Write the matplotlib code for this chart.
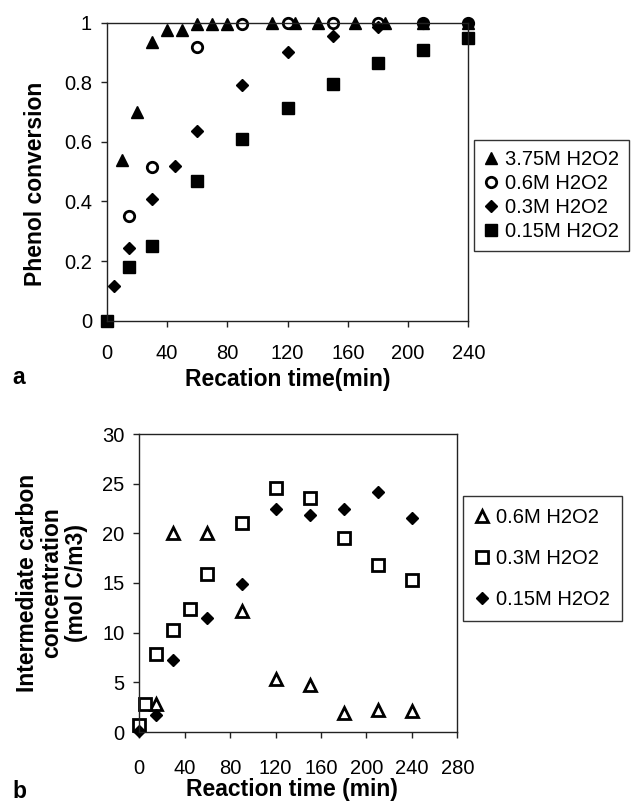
import matplotlib
matplotlib.use('Agg')
import matplotlib.pyplot as plt

plt.rcParams['font.family'] = ['Liberation Sans', 'DejaVu Sans']

# panel a: phenol conversion vs time
a_375_x = [10, 20, 30, 40, 50, 60, 70, 80, 110, 125, 140, 165, 185, 210, 240]
a_375_y = [0.54, 0.70, 0.935, 0.975, 0.975, 0.995, 0.995, 0.995, 1.0, 1.0, 1.0, 1.0, 1.0, 1.0, 1.0]
a_06_x = [15, 30, 60, 90, 120, 150, 180, 210, 240]
a_06_y = [0.35, 0.515, 0.92, 0.995, 1.0, 1.0, 1.0, 1.0, 1.0]
a_03_x = [5, 15, 30, 45, 60, 90, 120, 150, 180, 210, 240]
a_03_y = [0.115, 0.245, 0.41, 0.52, 0.635, 0.79, 0.90, 0.955, 0.985, 1.0, 1.0]
a_015_x = [0, 15, 30, 60, 90, 120, 150, 180, 210, 240]
a_015_y = [0.0, 0.18, 0.25, 0.47, 0.61, 0.715, 0.795, 0.865, 0.91, 0.95]

# panel b: intermediate carbon concentration vs time
b_06_x = [15, 30, 60, 90, 120, 150, 180, 210, 240]
b_06_y = [2.8, 20.0, 20.0, 12.2, 5.3, 4.7, 1.95, 2.2, 2.15]
b_03_x = [0, 5, 15, 30, 45, 60, 90, 120, 150, 180, 210, 240]
b_03_y = [0.7, 2.8, 7.9, 10.3, 12.4, 15.9, 21.0, 24.6, 23.6, 19.5, 16.8, 15.3]
b_015_x = [0, 15, 30, 60, 90, 120, 150, 180, 210, 240]
b_015_y = [0.1, 1.7, 7.2, 11.5, 14.9, 22.4, 21.8, 22.5, 24.2, 21.5]

a_xticks = [0, 40, 80, 120, 160, 200, 240]
a_yticks = [0, 0.2, 0.4, 0.6, 0.8, 1]
a_yticklabels = ['0', '0.2', '0.4', '0.6', '0.8', '1']
b_xticks = [0, 40, 80, 120, 160, 200, 240, 280]
b_yticks = [0, 5, 10, 15, 20, 25, 30]

W, H = 631, 806
fig = plt.figure(figsize=(W / 100, H / 100), dpi=100)

def px_axes(l, t, r, b):
    return fig.add_axes([l / W, 1 - b / H, (r - l) / W, (b - t) / H])

def style(ax, pad_x):
    for s in ax.spines.values():
        s.set_color('#222222')
        s.set_linewidth(1.0)
    ax.tick_params(axis='both', direction='out', length=4.5, width=1, colors='#222222',
                   labelsize=14.5, labelcolor='black')
    ax.tick_params(axis='x', pad=pad_x)
    ax.tick_params(axis='y', pad=6)

ax1 = px_axes(106.7, 22.7, 468.3, 320.7)
ax1.plot(a_375_x, a_375_y, '^', color='black', ms=9, clip_on=False, label='3.75M H2O2')
ax1.plot(a_06_x, a_06_y, 'o', mfc='white', mec='black', mew=2, ms=7.5, clip_on=False, label='0.6M H2O2')
ax1.plot(a_03_x, a_03_y, 'D', color='black', ms=6.5, clip_on=False, label='0.3M H2O2')
ax1.plot(a_015_x, a_015_y, 's', color='black', ms=8, clip_on=False, label='0.15M H2O2')
ax1.set_xlim(0, 240)
ax1.set_ylim(0, 1)
ax1.set_xticks(a_xticks)
ax1.set_yticks(a_yticks)
ax1.set_yticklabels(a_yticklabels)
style(ax1, 12)
ax1.set_xlabel('Recation time(min)', fontsize=16.5, fontweight='bold')
ax1.set_ylabel('Phenol conversion', fontsize=16.5, fontweight='bold')
ax1.xaxis.set_label_coords(0.5, -0.16)
ax1.yaxis.set_label_coords(-0.165, 0.46)
leg1 = ax1.legend(loc='upper left', bbox_to_anchor=(474 / W, 1 - 140 / H),
                  bbox_transform=fig.transFigure, fontsize=14.5, frameon=True, fancybox=False,
                  edgecolor='black', handlelength=0.7, handletextpad=0.35, labelspacing=0.25,
                  borderpad=0.5, borderaxespad=0, numpoints=1)
leg1.get_frame().set_linewidth(1.0)

ax2 = px_axes(139.3, 434, 457.3, 732)
ax2.plot(b_06_x, b_06_y, '^', mfc='white', mec='black', mew=2, ms=8, clip_on=False, label='0.6M H2O2')
ax2.plot(b_03_x, b_03_y, 's', mfc='white', mec='black', mew=2, ms=8, clip_on=False, label='0.3M H2O2')
ax2.plot(b_015_x, b_015_y, 'D', color='black', ms=6.5, clip_on=False, label='0.15M H2O2')
ax2.set_xlim(0, 280)
ax2.set_ylim(0, 30)
ax2.set_xticks(b_xticks)
ax2.set_yticks(b_yticks)
style(ax2, 15)
ax2.set_xlabel('Reaction time (min)', fontsize=16.5, fontweight='bold')
ax2.set_ylabel('Intermediate carbon\nconcentration\n(mol C/m3)', fontsize=16.5,
               fontweight='bold', linespacing=1.1)
ax2.xaxis.set_label_coords(0.48, -0.155)
ax2.yaxis.set_label_coords(-0.16, 0.5)
leg2 = ax2.legend(loc='upper left', bbox_to_anchor=(463 / W, 1 - 496 / H),
                  bbox_transform=fig.transFigure, fontsize=14.5, frameon=True, fancybox=False,
                  edgecolor='black', handlelength=0.7, handletextpad=0.35, labelspacing=1.1,
                  borderpad=0.6, borderaxespad=0, numpoints=1)
leg2.get_frame().set_linewidth(1.0)

fig.text(12 / W, 1 - 378 / H, 'a', fontsize=16.5, fontweight='bold', va='center')
fig.text(12 / W, 1 - 792 / H, 'b', fontsize=16.5, fontweight='bold', va='center')

fig.savefig('out.png', dpi=100)
